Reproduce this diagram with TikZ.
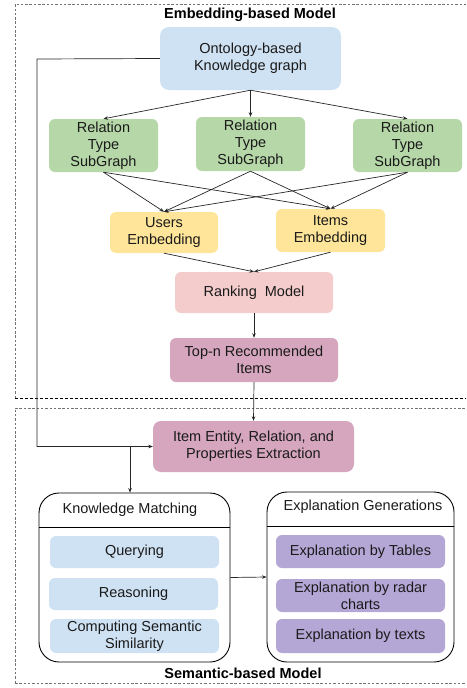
\documentclass[tikz,border=0pt]{standalone}
\usepackage{fontspec}
\setmainfont{Liberation Sans}
\usetikzlibrary{arrows.meta}
\definecolor{cblue}{HTML}{CFE2F3}
\definecolor{cgreen}{HTML}{B6D7A8}
\definecolor{cyellow}{HTML}{FFE599}
\definecolor{cpink}{HTML}{F4CCCC}
\definecolor{cmauve}{HTML}{D5A6BD}
\definecolor{cpurple}{HTML}{B4A7D6}
\definecolor{txt}{HTML}{1A1A1A}
\tikzset{
  fbox/.style={rounded corners=6pt, draw=none, align=center, inner sep=0pt,
    font=\fontsize{14.5}{17}\selectfont, text=txt},
  arr/.style={draw=black!85, line width=0.7pt, -{Stealth[length=4.5pt,width=3.5pt]}},
  dashbox/.style={draw=black!55, line width=0.9pt, dash pattern=on 2.5pt off 1.8pt},
  container/.style={draw=black, line width=0.9pt, rounded corners=20pt},
  ttl/.style={font=\fontsize{14.5}{17}\selectfont\bfseries, text=black},
  hdr/.style={font=\fontsize{14.5}{17}\selectfont, text=txt},
}
\begin{document}
\begin{tikzpicture}[x=1pt,y=-1pt]
\useasboundingbox (0,0) rectangle (466,688);
\begin{scope}
\clip (0,0) rectangle (466,688);
% dashed regions
\draw[dashbox] (15,398) -- (15,4) -- (475,4);
\draw[draw=black, line width=0.9pt, dash pattern=on 3pt off 2pt] (15,398) -- (475,398);
\draw[dashbox] (15,683) -- (15,408) -- (475,408);
\draw[dashbox] (15,683) -- (475,683);
\end{scope}
\node[ttl] (t1) at (250,15) {Embedding-based Model};
\node[ttl] (t2) at (243,673) {Semantic-based Model};

% embedding part
\node[fbox, fill=cblue, minimum width=181, minimum height=63, rounded corners=9pt] (onto) at (250.5,58.5) {Ontology-based\\Knowledge graph};
\node[fbox, fill=cgreen, minimum width=109, minimum height=53] (r1) at (103.5,145.5) {Relation\\Type\\SubGraph};
\node[fbox, fill=cgreen, minimum width=109, minimum height=54] (r2) at (250.5,144) {Relation\\Type\\SubGraph};
\node[fbox, fill=cgreen, minimum width=109, minimum height=53] (r3) at (407.5,145.5) {Relation\\Type\\SubGraph};
\node[fbox, fill=cyellow, minimum width=108, minimum height=41] (ue) at (164,232.5) {Users\\Embedding};
\node[fbox, fill=cyellow, minimum width=109, minimum height=43] (ie) at (330.5,230.5) {Items\\Embedding};
\node[fbox, fill=cpink, minimum width=158, minimum height=41] (rank) at (254,292.5) {Ranking\ \ Model};
\node[fbox, fill=cmauve, minimum width=168, minimum height=44] (topn) at (254,360) {Top-n Recommended\\Items};
\node[fbox, fill=cmauve, minimum width=201, minimum height=51, rounded corners=8pt] (item) at (253.5,446.5) {Item Entity, Relation, and\\Properties Extraction};

% semantic part containers
\node[container, minimum width=191, minimum height=169, inner sep=0pt] (km) at (134.5,577.5) {};
\draw[line width=0.9pt] (39,527) -- (230,527);
\node[hdr] (kmt) at (130,510) {Knowledge Matching};
\node[container, minimum width=187, minimum height=170, inner sep=0pt] (eg) at (360.5,577) {};
\draw[line width=0.9pt] (267,526) -- (454,526);
\node[hdr] (egt) at (363,507) {Explanation Generations};

\node[fbox, fill=cblue, minimum width=169, minimum height=32] (q) at (134.5,552) {Querying};
\node[fbox, fill=cblue, minimum width=169, minimum height=32] (re) at (133.5,594) {Reasoning};
\node[fbox, fill=cblue, minimum width=169, minimum height=34] (cs) at (134.5,636) {Computing Semantic\\Similarity};
\node[fbox, fill=cpurple, minimum width=169, minimum height=33] (et) at (360.5,551.5) {Explanation by Tables};
\node[fbox, fill=cpurple, minimum width=169, minimum height=33] (er) at (360.5,595.5) {Explanation by radar\\charts};
\node[fbox, fill=cpurple, minimum width=169, minimum height=34] (ex) at (360.5,636) {Explanation by texts};

% connectors
\foreach \r in {r1,r2,r3} \draw[arr] (onto.south) -- (\r.north);
\foreach \r in {r1,r2,r3} {\draw[arr] (\r.south) -- (ue.north); \draw[arr] (\r.south) -- (ie.north);}
\draw[arr] (ue.south) -- (rank.north);
\draw[arr] (ie.south) -- (rank.north);
\draw[arr] (rank.south) -- (topn.north);
\draw[arr] (topn.south) -- (item.north);
\coordinate (lx) at (37,59);
\coordinate (br) at (130,446.5);
\draw[arr] (onto.west) -- (lx) |- (item.west);
\draw[arr] (br) -- (br |- km.north);
\draw[arr] (km.east) -- (eg.west);
\end{tikzpicture}
\end{document}
